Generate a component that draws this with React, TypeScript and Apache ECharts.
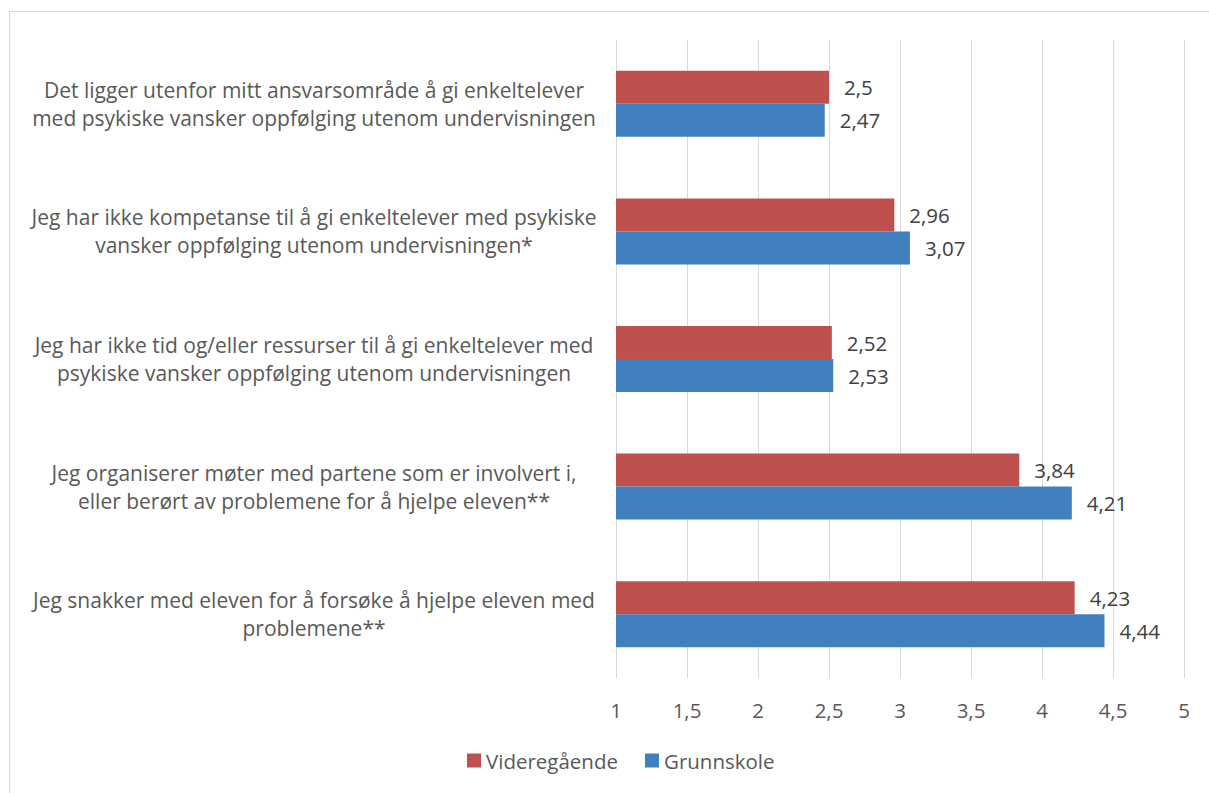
import React, { useEffect, useRef } from "react";
import * as echarts from "echarts";

const categories = [
  "Det ligger utenfor mitt ansvarsområde å gi enkeltelever\nmed psykiske vansker oppfølging utenom undervisningen",
  "Jeg har ikke kompetanse til å gi enkeltelever med psykiske\nvansker oppfølging utenom undervisningen*",
  "Jeg har ikke tid og/eller ressurser til å gi enkeltelever med\npsykiske vansker oppfølging utenom undervisningen",
  "Jeg organiserer møter med partene som er involvert i,\neller berørt av problemene for å hjelpe eleven**",
  "Jeg snakker med eleven for å forsøke å hjelpe eleven med\nproblemene**",
];
const videregaende = [2.5, 2.96, 2.52, 3.84, 4.23];
const grunnskole = [2.47, 3.07, 2.53, 4.21, 4.44];
const seriesNames = ["Videregående", "Grunnskole"];

const FONT = "Open Sans";
const fmt = (v: number) => String(v).replace(".", ",");

export default function App() {
  const ref = useRef<HTMLDivElement>(null);
  useEffect(() => {
    if (!ref.current) return;
    const chart = echarts.init(ref.current, undefined, { renderer: "svg" });
    chart.setOption({
      animation: false,
      textStyle: { fontFamily: FONT },
      grid: { left: 616, right: 25, top: 40, bottom: 115, containLabel: false },
      graphic: [
        {
          type: "rect",
          shape: { x: 9.5, y: 11.5, width: 1220, height: 800 },
          style: { fill: "none", stroke: "#D9D9D9", lineWidth: 1 },
          silent: true,
        },
      ],
      legend: {
        bottom: 17,
        left: 462,
        itemWidth: 14,
        itemHeight: 14,
        itemGap: 27,
        icon: "rect",
        textStyle: { color: "#595959", fontSize: 20.5, fontFamily: FONT },
        data: seriesNames,
      },
      xAxis: {
        type: "value",
        min: 1,
        max: 5,
        interval: 0.5,
        axisLine: { show: false },
        axisTick: { show: false },
        splitLine: { show: true, lineStyle: { color: "#D9D9D9", width: 1 } },
        axisLabel: {
          color: "#595959",
          fontSize: 20.5,
          margin: 21,
          formatter: (v: number) => fmt(v),
        },
      },
      yAxis: {
        type: "category",
        inverse: true,
        data: categories,
        axisLine: { show: false },
        axisTick: { show: false },
        axisLabel: {
          color: "#595959",
          fontSize: 21,
          lineHeight: 28,
          align: "center",
          margin: 302,
        },
      },
      series: [
        {
          name: seriesNames[0],
          type: "bar",
          data: videregaende,
          barWidth: 33,
          barGap: "0%",
          itemStyle: { color: "#C0504D" },
          label: {
            show: true,
            position: "right",
            distance: 15,
            color: "#404040",
            fontSize: 20.5,
            formatter: (p: any) => fmt(p.value),
          },
        },
        {
          name: seriesNames[1],
          type: "bar",
          data: grunnskole,
          barWidth: 33,
          barGap: "0%",
          itemStyle: { color: "#4180BF" },
          label: {
            show: true,
            position: "right",
            distance: 15,
            color: "#404040",
            fontSize: 20.5,
            formatter: (p: any) => fmt(p.value),
          },
        },
      ],
    });
    return () => chart.dispose();
  }, []);
  return <div ref={ref} style={{ width: 1209, height: 793, position: "absolute", left: 0, top: 0 }} />;
}
